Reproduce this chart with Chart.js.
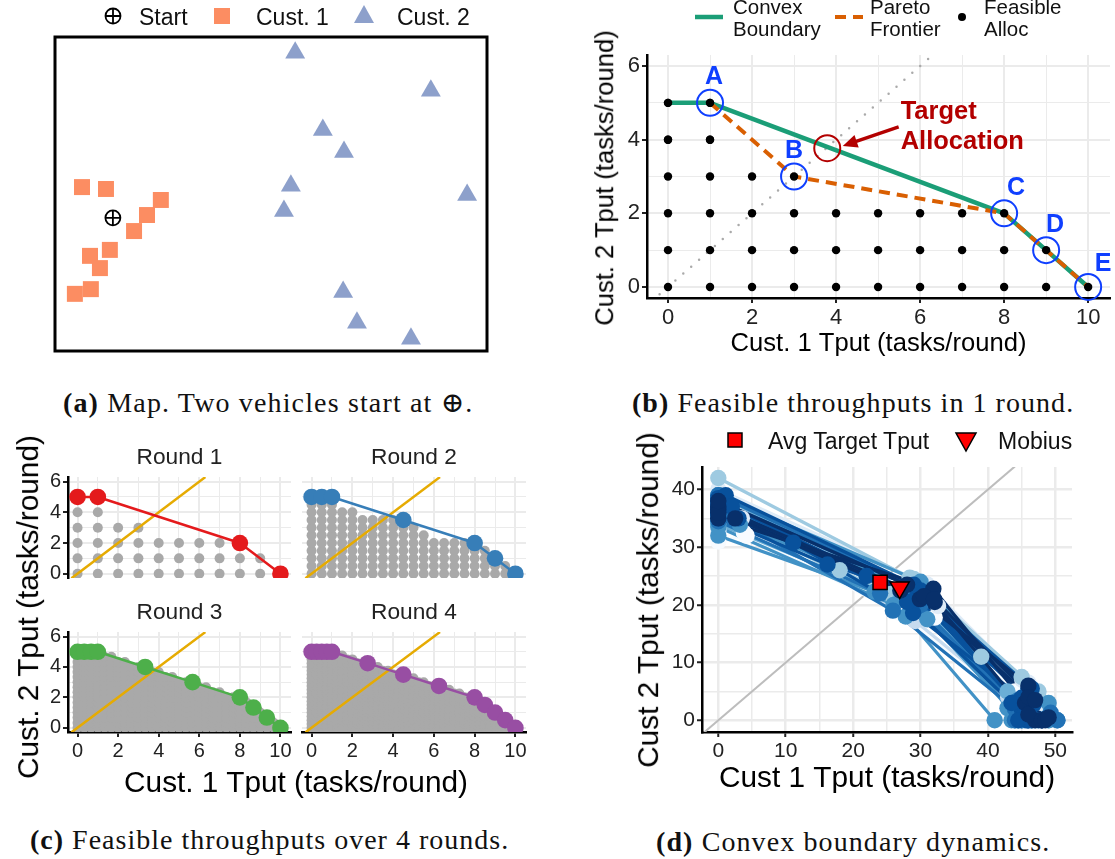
<!DOCTYPE html>
<html>
<head>
<meta charset="utf-8">
<script src="https://cdn.jsdelivr.net/npm/chart.js@4/dist/chart.umd.js"></script>
<style>
  html, body { margin: 0; padding: 0; background: #fff; }
  #page { position: relative; width: 1115px; height: 859px; overflow: hidden; background: #fff; }
  canvas { position: absolute; }
  .txt { position: absolute; white-space: nowrap; line-height: 1; }
  svg { position: absolute; }
</style>
</head>
<body>
<div id="page"></div>
<script>
// panel (a) map, in percent of the box
var custOneMap = [[6.25,52.2],[11.8,51.6],[24.5,48.1],[21.3,43.3],[18.3,38.2],[12.7,32.2],[8.1,30.3],[10.4,26.4],[8.3,19.7],[4.6,18.2]];
var custTwoMap = [[55.6,95],[87,82.9],[62,70.4],[66.9,63.4],[54.6,52.6],[53,44.6],[95.4,49.7],[66.7,18.8],[69.9,9],[82.4,3.9]];
var startMap = [[13.4,42.4]];
var legendA = ['Start', 'Cust. 1', 'Cust. 2'];

// axis ticks
var unitTicksX = [0,1,2,3,4,5,6,7,8,9,10];
var unitTicksY = [0,1,2,3,4,5,6];
var ticksDX = [0,5,10,15,20,25,30,35,40,45,50];
var ticksDY = [0,5,10,15,20,25,30,35,40];

// panel (b)
var feasibleTopB = [5, 5, 3, 3, 2, 2, 2, 2, 2, 1, 0]; // highest feasible y for x = 0..10
var convexB = [[0,5],[1,5],[8,2],[9,1],[10,0]];
var paretoB = [[1,5],[3,3],[8,2],[9,1],[10,0]];
var cornersB = [[1,5],[3,3],[8,2],[9,1],[10,0]];
var cornerNames = ['A', 'B', 'C', 'D', 'E'];
var cornerOffsets = [[4,-26],[0,-25.5],[12,-25],[9,-25],[15,-23]];
var targetB = [[3.79,3.77]];
var targetArrow = [[5.49,4.35],[4.16,3.83]];
var diagonalB = [[-0.2,-0.2],[6.2,6.2]];

// panel (c), columns of feasible points: x step is 1/round, top is the highest y
var round1Top = [4,4,3,3,2,2,2,2,1,1,0];
var round1Edge = [[0,5],[1,5],[8,2],[10,0]];
var round2Top = [5,5,5,4,4,3.5,3.5,3.5,3.5,3.5,3,2.5,2,2,2,2,2,1.5,1,0.5,0];
var round2Edge = [[0,5],[0.5,5],[1,5],[4.5,3.5],[8,2],[9,1],[10,0]];
var round3Top = [5,5,5,5,14/3,14/3,13/3,13/3,4,4,4,11/3,11/3,10/3,10/3,3,3,3,8/3,8/3,7/3,7/3,2,2,2,5/3,4/3,1,2/3,1/3,0];
var round3Edge = [[0,5],[0.33,5],[0.67,5],[1,5],[3.33,4],[5.67,3],[8,2],[8.67,1.33],[9.33,0.67],[10,0]];
var round4Top = [5,5,5,5,5,4.75,4.75,4.5,4.5,4.25,4.25,4.25,4,4,3.75,3.75,3.5,3.5,3.5,3.25,3.25,3,3,2.75,2.75,2.75,2.5,2.5,2.25,2.25,2,2,2,1.75,1.5,1.25,1,0.75,0.5,0.25,0];
var round4Edge = [[0,5],[0.25,5],[0.5,5],[0.75,5],[1,5],[2.75,4.25],[4.5,3.5],[6.25,2.75],[8,2],[8.5,1.5],[9,1],[9.5,0.5],[10,0]];
var diagonalC = [[-0.3,-0.3],[6.3,6.3]];

// panel (d), boundary per round, oldest first, with its shade
var blues = ['#f7fbff','#deebf7','#c6dbef','#9ecae1','#6baed6','#4292c6','#2171b5','#08519c','#08306b'];
var dynamicsShade = [0,0,1,1,2,3,3,3,4,4,5,5,5,5,5,6,6,6,6,6,6,7,7,7,7,7,7,7,8,8,8,8,8];
var dynamicsD = [
  [[0,31],[4.2,32],[32.1,17.8],[44,5],[44.5,0]],
  [[0,33],[3.8,32.5],[27,18.5],[43.5,3],[44,0]],
  [[0,32.5],[3.5,35],[32.6,19.8],[46,6.5],[50,0]],
  [[0,40],[30.9,23.6],[45.1,7],[48,3],[49,0]],
  [[0,36],[29.2,17.2],[43,4],[44,0]],
  [[0,42],[28.4,24.7],[45,7.5],[47,4.2],[47.5,0]],
  [[0,38],[18,26],[25.6,21.9],[39,11],[44,2],[44.5,0]],
  [[0,36],[26,21],[29,24.5],[47.5,5],[49,0]],
  [[0,39],[28,22.5],[42.9,5],[44,0]],
  [[0,34],[27,21],[46,5],[47,0]],
  [[0,32],[23.2,22.3],[27.8,18],[41,0]],
  [[0,37],[3.2,33.9],[29.7,23],[42.9,2.1],[43.5,0]],
  [[0,35.5],[29,21.5],[49,3],[50.3,0]],
  [[0,39],[30,24],[46,4.5],[49,0]],
  [[0,33.5],[26,20],[31,17.5],[44,1],[44.5,0]],
  [[0,38],[2.2,35],[25.9,19],[44,2],[44,0]],
  [[0,37],[30,20],[49.3,1.3],[50.3,0]],
  [[0,39],[31,22],[46,3.2],[46.5,0]],
  [[0,36],[29,22],[44.5,3.5],[45,0]],
  [[0,37.5],[28,22],[44,3],[45,0]],
  [[0,34.5],[24,22],[29,20],[44.5,2],[45.5,0]],
  [[0,36],[11.1,30.8],[28.9,18.6],[45,3.9],[45.8,0]],
  [[0,35],[16.2,27],[30,22],[45,2],[46,0]],
  [[0,38],[30,21],[46.8,2.8],[48,0]],
  [[0,37],[29.5,21.5],[45.5,1.5],[46,0]],
  [[0,38.5],[1.1,39],[29,23.5],[46.5,5.5],[47.5,0]],
  [[0,35.8],[3,35],[22,25],[28,20.5],[43.5,3],[44.5,0]],
  [[0,36.5],[2,37],[30,22.5],[46,5.5],[46.5,0]],
  [[0,36.5],[29.9,21],[46,6],[48,0]],
  [[0,35],[31.9,22.8],[45.5,3],[47,0]],
  [[0,37],[32.1,20.5],[46,1],[48,0]],
  [[0,36],[2.5,35],[27,22.5],[30.5,21.5],[46,4],[48.5,0]],
  [[0,38],[28,23.5],[32,21],[47,3.5],[49,0.5]]
];
var avgTarget = [[24,23.9]];
var mobius = [[26.9,23]];
var diagonalD = [[-3,-3],[44,44]];
var legendD = ['Avg Target Tput', 'Mobius'];

var sans = '"Liberation Sans", Arial, sans-serif';
var serif = '"Liberation Serif", "DejaVu Serif", serif';
var page = document.getElementById('page');

function addText(str, x, y, o) {
  o = o || {};
  var el = document.createElement('div');
  el.className = 'txt';
  el.textContent = str;
  el.style.left = x + 'px';
  el.style.top = y + 'px';
  el.style.fontFamily = o.family || sans;
  el.style.fontSize = (o.size || 23) + 'px';
  el.style.color = o.color || '#111';
  el.style.transform = o.rotate ? 'translate(-50%,-50%) rotate(-90deg)' : (o.center ? 'translate(-50%,-50%)' : 'translateY(-50%)');
  page.appendChild(el);
  return el;
}

function addCaption(tag, text, x, y, spacing) {
  var el = addText('', x, y, { family: serif, size: 28 });
  el.style.letterSpacing = spacing + 'px';
  var b = document.createElement('b');
  b.textContent = tag;
  el.appendChild(b);
  el.appendChild(document.createTextNode(' ' + text));
}

function addMarker(cx, cy, inner) {
  var ns = 'http://www.w3.org/2000/svg';
  var s = document.createElementNS(ns, 'svg');
  s.setAttribute('width', 40);
  s.setAttribute('height', 40);
  s.setAttribute('viewBox', '-20 -20 40 40');
  s.style.left = (cx - 20) + 'px';
  s.style.top = (cy - 20) + 'px';
  s.innerHTML = inner;
  page.appendChild(s);
}

// expand column tops into the grid of feasible points
function gridPoints(tops, step) {
  var pts = [];
  tops.forEach(function(top, i) {
    for (var j = 0; j * step <= top + 0.001; j++) pts.push({ x: i * step, y: j * step });
  });
  return pts;
}

function xy(list) {
  return list.map(function(p) { return { x: p[0], y: p[1] }; });
}

// datasets are listed bottom first, chart.js paints high order first
function stack(list) {
  return list.map(function(d, i) { d.order = list.length - i; return d; });
}

function axis(o) {
  return {
    type: 'linear', min: o.min, max: o.max, bounds: 'data',
    // ggplot style limits: the range runs past the ticks, chart.js would snap it
    afterBuildTicks: function(s) {
      s.min = o.min;
      s.max = o.max;
      s.ticks = o.ticks.map(function(v) { return { value: v }; });
    },
    afterFit: function(s) { if (s.isHorizontal()) s.height = o.size; else s.width = o.size; },
    grid: {
      color: '#ebebeb',
      lineWidth: function(c) { return c.tick && c.tick.value % o.every === 0 ? o.major : o.minor; },
      drawTicks: !!o.labels,
      tickLength: 5,
      tickWidth: 2,
      tickColor: function(c) { return c.tick && c.tick.value % o.every === 0 ? '#222' : 'rgba(0,0,0,0)'; }
    },
    border: { display: !!o.line, color: '#000', width: 2.5 },
    ticks: {
      display: !!o.labels, autoSkip: false, maxRotation: 0, minRotation: 0,
      padding: o.pad || 2, color: '#222', font: { family: sans, size: o.font || 21 },
      callback: function(v) { return v % o.every === 0 ? String(v) : ''; }
    },
    title: o.title ? { display: true, text: o.title, color: '#000', font: { family: sans, size: o.titleSize }, padding: { top: 0, bottom: o.titlePad } } : { display: false }
  };
}

// plot is the wanted chart area, m the room around it in the canvas
function makeChart(plot, m, datasets, scales, extra) {
  var c = document.createElement('canvas');
  c.width = plot.r - plot.l + m.l + m.r;
  c.height = plot.b - plot.t + m.t + m.b;
  c.style.left = (plot.l - m.l) + 'px';
  c.style.top = (plot.t - m.t) + 'px';
  page.appendChild(c);
  extra = extra || {};
  var plugins = { legend: { display: false }, tooltip: { enabled: false } };
  if (extra.title) plugins.title = extra.title;
  return new Chart(c.getContext('2d'), {
    type: 'scatter',
    data: { datasets: stack(datasets) },
    options: {
      responsive: false, animation: false, events: [],
      layout: { padding: extra.padding || { left: 0, top: extra.topPad === undefined ? m.t : extra.topPad, right: m.r, bottom: 0 } },
      plugins: plugins,
      scales: scales
    },
    plugins: extra.plugins || []
  });
}

function lineSet(pts, color, width, more) {
  return Object.assign({ data: xy(pts), showLine: true, pointRadius: 0, borderColor: color, borderWidth: width, fill: false, borderJoinStyle: 'round' }, more || {});
}
function pointSet(pts, color, radius, more) {
  return Object.assign({ data: pts, showLine: false, pointRadius: radius, pointBackgroundColor: color, pointBorderColor: color, pointBorderWidth: 0 }, more || {});
}

/* ---------- panel (a) ---------- */
var mapFrame = {
  id: 'mapFrame',
  afterDatasetsDraw: function(chart) {
    var a = chart.chartArea, ctx = chart.ctx;
    ctx.save();
    ctx.strokeStyle = '#000';
    ctx.lineWidth = 3;
    ctx.strokeRect(a.left, a.top, a.right - a.left, a.bottom - a.top);
    ctx.restore();
  }
};
makeChart({ l: 55, t: 37, r: 487, b: 351 }, { l: 20, t: 20, r: 20, b: 20 }, [
  pointSet(xy(custOneMap), '#fc8d62', 11.3, { pointStyle: 'rect', clip: false }),
  pointSet(xy(custTwoMap), '#8da0cb', 11.5, { pointStyle: 'triangle', clip: false }),
  { data: xy(startMap), pointStyle: 'circle', pointRadius: 7.5, pointBackgroundColor: 'rgba(0,0,0,0)', pointBorderColor: '#000', pointBorderWidth: 1.8 },
  { data: xy(startMap), pointStyle: 'cross', pointRadius: 7.5, pointBorderColor: '#000', pointBorderWidth: 1.8 }
], {
  x: { type: 'linear', display: false, min: 0, max: 100, bounds: 'data' },
  y: { type: 'linear', display: false, min: 0, max: 100, bounds: 'data' }
}, { plugins: [mapFrame], padding: 20 });

addMarker(113, 16, '<circle r="7.5" fill="none" stroke="#000" stroke-width="1.8"/><path d="M-7.5 0H7.5M0 -7.5V7.5" stroke="#000" stroke-width="1.8"/>');
addMarker(222, 16, '<rect x="-8" y="-8" width="16" height="16" fill="#fc8d62"/>');
addMarker(364, 14, '<polygon points="0,-9 10,9 -10,9" fill="#8da0cb"/>');
addText(legendA[0], 139, 17);
addText(legendA[1], 256, 17);
addText(legendA[2], 397, 17);
addCaption('(a)', 'Map. Two vehicles start at \u2295.', 63, 403, 1.15);

/* ---------- panel (b) ---------- */
var feasibleB = [];
feasibleTopB.forEach(function(top, x) {
  for (var y = 0; y <= top; y++) feasibleB.push({ x: x, y: y });
});
feasibleB.push({ x: 0, y: 4 }, { x: 0, y: 5 }, { x: 1, y: 4 }, { x: 1, y: 5 });

var notesB = {
  id: 'notesB',
  afterDatasetsDraw: function(chart) {
    var ctx = chart.ctx, sx = chart.scales.x, sy = chart.scales.y;
    ctx.save();
    ctx.textAlign = 'center';
    ctx.textBaseline = 'middle';
    ctx.fillStyle = '#0f3fff';
    ctx.font = 'bold 25px ' + sans;
    cornerNames.forEach(function(name, i) {
      ctx.fillText(name, sx.getPixelForValue(cornersB[i][0]) + cornerOffsets[i][0], sy.getPixelForValue(cornersB[i][1]) + cornerOffsets[i][1]);
    });
    // arrow to the target allocation
    var x0 = sx.getPixelForValue(targetArrow[0][0]), y0 = sy.getPixelForValue(targetArrow[0][1]);
    var x1 = sx.getPixelForValue(targetArrow[1][0]), y1 = sy.getPixelForValue(targetArrow[1][1]);
    var ang = Math.atan2(y1 - y0, x1 - x0);
    ctx.strokeStyle = ctx.fillStyle = '#b30000';
    ctx.lineWidth = 3.5;
    ctx.beginPath();
    ctx.moveTo(x0, y0);
    ctx.lineTo(x1 - 8 * Math.cos(ang), y1 - 8 * Math.sin(ang));
    ctx.stroke();
    ctx.beginPath();
    ctx.moveTo(x1, y1);
    ctx.lineTo(x1 - 16 * Math.cos(ang - 0.42), y1 - 16 * Math.sin(ang - 0.42));
    ctx.lineTo(x1 - 16 * Math.cos(ang + 0.42), y1 - 16 * Math.sin(ang + 0.42));
    ctx.closePath();
    ctx.fill();
    ctx.textAlign = 'left';
    ctx.font = 'bold 25.5px ' + sans;
    ctx.fillText('Target', sx.getPixelForValue(targetArrow[0][0]) + 2, sy.getPixelForValue(targetArrow[0][1]) - 15);
    ctx.fillText('Allocation', sx.getPixelForValue(targetArrow[0][0]) + 2, sy.getPixelForValue(targetArrow[0][1]) + 15);
    ctx.restore();
  }
};

makeChart({ l: 647, t: 55, r: 1110, b: 298 }, { l: 40, t: 20, r: 20, b: 65 }, [
  lineSet(diagonalB, '#aaaaaa', 2.5, { borderDash: [0, 10.5], borderCapStyle: 'round', clip: false }),
  lineSet(convexB, '#1b9e77', 4.5),
  lineSet(paretoB, '#d95f02', 4, { borderDash: [11, 7] }),
  pointSet(feasibleB, '#000', 4.2, { clip: false }),
  pointSet(xy(cornersB), 'rgba(0,0,0,0)', 13, { pointBorderColor: '#0f3fff', pointBorderWidth: 2, clip: false }),
  pointSet(xy(targetB), 'rgba(0,0,0,0)', 13, { pointBorderColor: '#b30000', pointBorderWidth: 2, clip: false })
], {
  x: axis({ min: -0.5, max: 10.52, ticks: unitTicksX, every: 2, major: 2, minor: 1, size: 65, labels: true, line: true, font: 22, title: 'Cust. 1 Tput (tasks/round)', titleSize: 25.6, titlePad: 4 }),
  y: axis({ min: -0.3, max: 6.3, ticks: unitTicksY, every: 2, major: 2, minor: 1, size: 40, labels: true, line: true, font: 22 })
}, { plugins: [notesB] });

// chart.js squeezes a y title to the axis height, these are longer than that
addText('Cust. 2 Tput (tasks/round)', 605, 178, { size: 25.6, color: '#000', rotate: true });

addMarker(709, 17, '<path d="M-14 0H14" stroke="#1b9e77" stroke-width="4.5"/>');
addMarker(849, 17, '<path d="M-14 0H14" stroke="#d95f02" stroke-width="4" stroke-dasharray="11 7"/>');
addMarker(962, 17, '<circle r="4" fill="#000"/>');
addText('Convex', 733, 7, { size: 20.5 });
addText('Boundary', 733, 29, { size: 20.5 });
addText('Pareto', 870, 7, { size: 20.5 });
addText('Frontier', 870, 29, { size: 20.5 });
addText('Feasible', 984, 7, { size: 20.5 });
addText('Alloc', 984, 29, { size: 20.5 });
addCaption('(b)', 'Feasible throughputs in 1 round.', 632, 403, 1.05);

/* ---------- panel (c) ---------- */
var facets = [
  { name: 'Round 1', tops: round1Top, edge: round1Edge, step: 1, color: '#e41a1c', l: 68, t: 477, r: 291, b: 578, left: true, bottom: false },
  { name: 'Round 2', tops: round2Top, edge: round2Edge, step: 0.5, color: '#377eb8', l: 302, t: 477, r: 526, b: 578, left: false, bottom: false },
  { name: 'Round 3', tops: round3Top, edge: round3Edge, step: 1 / 3, color: '#4daf4a', l: 68, t: 632, r: 291, b: 732, left: true, bottom: true },
  { name: 'Round 4', tops: round4Top, edge: round4Edge, step: 0.25, color: '#984ea3', l: 302, t: 632, r: 526, b: 732, left: false, bottom: true }
];
facets.forEach(function(f) {
  var mb = f.bottom ? 34 : 16, ml = f.left ? 36 : 14;
  makeChart({ l: f.l, t: f.t, r: f.r, b: f.b }, { l: ml, t: 34, r: 9, b: mb }, [
    pointSet(gridPoints(f.tops, f.step), '#a9a9a9', 5, { clip: 0 }),
    lineSet(diagonalC, '#e6ab02', 2.5, { clip: 0 }),
    lineSet(f.edge, f.color, 2.5, { clip: 0 }),
    pointSet(xy(f.edge), f.color, 8.3, { clip: 0 })
  ], {
    x: axis({ min: -0.47, max: 10.52, ticks: unitTicksX, every: 2, major: 2, minor: 1, size: mb, labels: f.bottom, line: f.bottom, font: 20 }),
    y: axis({ min: -0.28, max: 6.3, ticks: unitTicksY, every: 2, major: 2, minor: 1, size: ml, labels: f.left, line: f.left, font: 20 })
  }, {
    topPad: 0.8,
    title: { display: true, text: f.name, fullSize: false, color: '#222', font: { family: sans, size: 22.7, weight: 'normal' }, padding: { top: 0, bottom: 6 } }
  });
});
addText('Cust. 2 Tput (tasks/round)', 28, 607, { size: 29.8, color: '#000', rotate: true });
addText('Cust. 1 Tput (tasks/round)', 296, 782, { size: 29.8, color: '#000', center: true });
addCaption('(c)', 'Feasible throughputs over 4 rounds.', 30, 840, 1.0);

/* ---------- panel (d) ---------- */
var setsD = [lineSet(diagonalD, '#bdbdbd', 2)];
dynamicsD.forEach(function(pts, i) {
  setsD.push(lineSet(pts, blues[dynamicsShade[i]], 3.2));
});
dynamicsD.forEach(function(pts, i) {
  setsD.push(pointSet(xy(pts), blues[dynamicsShade[i]], 8.2, { clip: false }));
});
setsD.push(pointSet(xy(avgTarget), '#ff0000', 10, { pointStyle: 'rect', pointBorderColor: '#000', pointBorderWidth: 1.5, clip: false }));
setsD.push(pointSet(xy(mobius), '#ff0000', 11, { pointStyle: 'triangle', pointRotation: 180, pointBorderColor: '#000', pointBorderWidth: 1.5, clip: false }));

makeChart({ l: 702, t: 467, r: 1072, b: 732 }, { l: 40, t: 20, r: 20, b: 65 }, setsD, {
  x: axis({ min: -2.42, max: 52.47, ticks: ticksDX, every: 10, major: 2.5, minor: 1.5, size: 65, labels: true, line: true, font: 21, title: 'Cust 1 Tput (tasks/round)', titleSize: 29.8, titlePad: 0 }),
  y: axis({ min: -2.03, max: 43.9, ticks: ticksDY, every: 10, major: 2.5, minor: 1.5, size: 40, labels: true, line: true, font: 21 })
});
addText('Cust 2 Tput (tasks/round)', 648, 600, { size: 29.8, color: '#000', rotate: true });
addMarker(735, 440, '<rect x="-7" y="-7" width="14" height="14" fill="#ff0000" stroke="#000" stroke-width="1.5"/>');
addMarker(966, 441, '<polygon points="-10,-8 10,-8 0,10" fill="#ff0000" stroke="#000" stroke-width="1.5"/>');
addText(legendD[0], 768, 441);
addText(legendD[1], 998, 441);
addCaption('(d)', 'Convex boundary dynamics.', 656, 842, 1.1);
</script>
</body>
</html>
